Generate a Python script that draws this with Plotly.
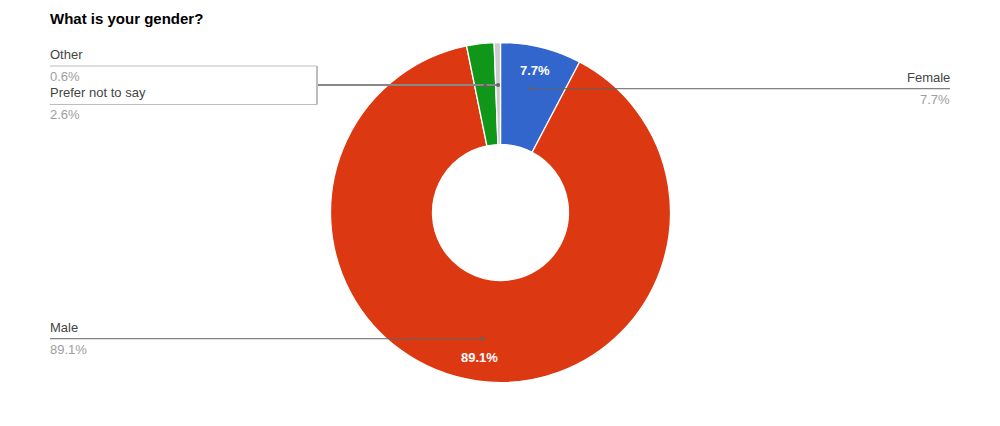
import numpy as np
import plotly.graph_objects as go

title = "What is your gender?"
labels = ["Female", "Male", "Prefer not to say", "Other"]
values = [7.7, 89.1, 2.6, 0.6]
pct_text = ["7.7%", "89.1%", "2.6%", "0.6%"]
colors = ["#3366cc", "#dc3912", "#109618", "#cccccc"]

W, H = 1000, 426
CX, CY, R = 500.5, 212.5, 170.0
HOLE = 0.4
PAD = 2  # plotly annotation inner padding compensation

def px(x):
    return x / W

def py(y):
    return 1 - y / H

fig = go.Figure()
fig.add_trace(go.Pie(
    labels=labels, values=values, sort=False, direction="clockwise", rotation=0,
    hole=HOLE, marker=dict(colors=colors, line=dict(color="white", width=1.3)),
    textinfo="none", hoverinfo="label+percent", showlegend=False,
    domain=dict(x=[px(CX - R), px(CX + R)], y=[py(CY + R), py(CY - R)]),
))

# mid angles of slices (degrees clockwise from 12 o'clock)
vals = np.array(values, dtype=float)
cum = np.cumsum(vals) / vals.sum() * 360.0
start = np.concatenate([[0.0], cum[:-1]])
mid = np.radians((start + cum) / 2)

def at(r, a):
    return CX + r * np.sin(a), CY - r * np.cos(a)

shapes = []
annotations = []
name_font = dict(family="Liberation Sans, Arial", size=13, color="#444444")
pct_font = dict(family="Liberation Sans, Arial", size=13, color="#9e9e9e")
line_col = "#636363"

def dot(x, y):
    shapes.append(dict(type="circle", xref="paper", yref="paper",
                       x0=px(x - 2), x1=px(x + 2), y0=py(y + 2), y1=py(y - 2),
                       fillcolor=line_col, line=dict(width=0)))

def hline(x0, x1, y, color=line_col, w=1):
    shapes.append(dict(type="line", xref="paper", yref="paper",
                       x0=px(x0), x1=px(x1), y0=py(y), y1=py(y), line=dict(color=color, width=w)))

def vline(x, y0, y1, color=line_col, w=1):
    shapes.append(dict(type="line", xref="paper", yref="paper",
                       x0=px(x), x1=px(x), y0=py(y0), y1=py(y1), line=dict(color=color, width=w)))

def label(x, y, name, pct, anchor):
    tx = x - PAD if anchor == "left" else x + PAD
    annotations.append(dict(x=px(tx), y=py(y - 2), xref="paper", yref="paper", text=name,
                            showarrow=False, xanchor=anchor, yanchor="bottom", font=name_font))
    annotations.append(dict(x=px(tx), y=py(y + 1), xref="paper", yref="paper", text=pct,
                            showarrow=False, xanchor=anchor, yanchor="top", font=pct_font))

R_DOT = 127.5
# Female (right)
fx, fy = at(R_DOT, mid[0])
hline(fx, 950, fy)
dot(fx, fy)
label(950, fy, labels[0], pct_text[0], "right")

# Male (left)
mx, my = at(R_DOT, mid[1])
hline(50, mx, my)
dot(mx, my)
label(50, my, labels[1], pct_text[1], "left")

# Prefer not to say + Other (grouped bracket, left)
gx, gy = at(R_DOT, mid[2])
ox, oy = at(R_DOT, mid[3])
bracket_x = 317
hline(bracket_x, ox, oy, color="#888888", w=2)
dot(gx, gy)
dot(ox, oy)
box_col = "#bdbdbd"
y_other, y_pref = 66, 104.5
hline(50, bracket_x, y_other, color=box_col)
hline(50, bracket_x, y_pref, color=box_col)
vline(bracket_x, y_other, y_pref, color=box_col, w=2)
label(50, y_other, labels[3], pct_text[3], "left")
label(50, y_pref, labels[2], pct_text[2], "left")

# inside percentage labels for the two large slices
R_TXT = 146
for i in (0, 1):
    tx, ty = at(R_TXT, mid[i])
    annotations.append(dict(x=px(tx), y=py(ty), xref="paper", yref="paper", text="<b>" + pct_text[i] + "</b>",
                            showarrow=False, xanchor="center", yanchor="middle",
                            font=dict(family="Liberation Sans, Arial", size=13, color="white")))

annotations.append(dict(x=px(50 - PAD), y=py(19), xref="paper", yref="paper", text="<b>" + title + "</b>",
                        showarrow=False, xanchor="left", yanchor="middle",
                        font=dict(family="Liberation Sans, Arial", size=15, color="#000000")))

fig.update_layout(width=W, height=H, autosize=False, margin=dict(l=0, r=0, t=0, b=0),
                  paper_bgcolor="white", plot_bgcolor="white",
                  shapes=shapes, annotations=annotations)
fig.write_html("out.html", config={"displayModeBar": False},
               post_script="document.body.style.margin='0';document.body.style.overflow='hidden';")
